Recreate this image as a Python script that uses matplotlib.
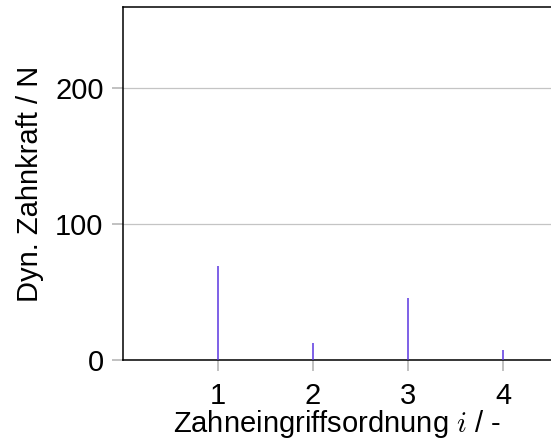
import matplotlib
matplotlib.use("Agg")
import matplotlib.pyplot as plt

# Dynamic tooth force per mesh order
orders = [1, 2, 3, 4]
force = [69.0, 12.3, 45.5, 7.4]
yticks = [0, 100, 200]
xticks = [1, 2, 3, 4]

plt.rcParams['font.family'] = ['Liberation Sans', 'DejaVu Sans']
plt.rcParams['mathtext.fontset'] = 'cm'

fig = plt.figure(figsize=(5.51, 4.41), dpi=100)
ax = fig.add_axes([123 / 551, 1 - 360 / 441, 475 / 551, 353 / 441])

ax.vlines(orders, 0, force, colors='#5a36e0', linewidth=1.1, zorder=3)

ax.set_xlim(0, 5)
ax.set_ylim(0, 260)
ax.set_xticks(xticks)
ax.set_yticks(yticks)
ax.grid(axis='y', color='#c4c4c4', linewidth=0.9, zorder=0)
ax.set_axisbelow(True)

ax.spines['right'].set_visible(False)
for side in ('left', 'top', 'bottom'):
    ax.spines[side].set_color('black')
    ax.spines[side].set_linewidth(1.1)

ax.tick_params(axis='both', direction='out', length=8, width=1.1,
               color='#b0b0b0', labelsize=21, pad=6)
ax.tick_params(axis='x', pad=8)

ax.set_xlabel('Zahneingriffsordnung $i$ / -', fontsize=21)
ax.xaxis.set_label_coords(214 / 475, -72 / 353)
ax.xaxis.label.set_verticalalignment('baseline')
ax.set_ylabel('Dyn. Zahnkraft / N', fontsize=21, labelpad=8)

fig.savefig('out.png', dpi=100)
